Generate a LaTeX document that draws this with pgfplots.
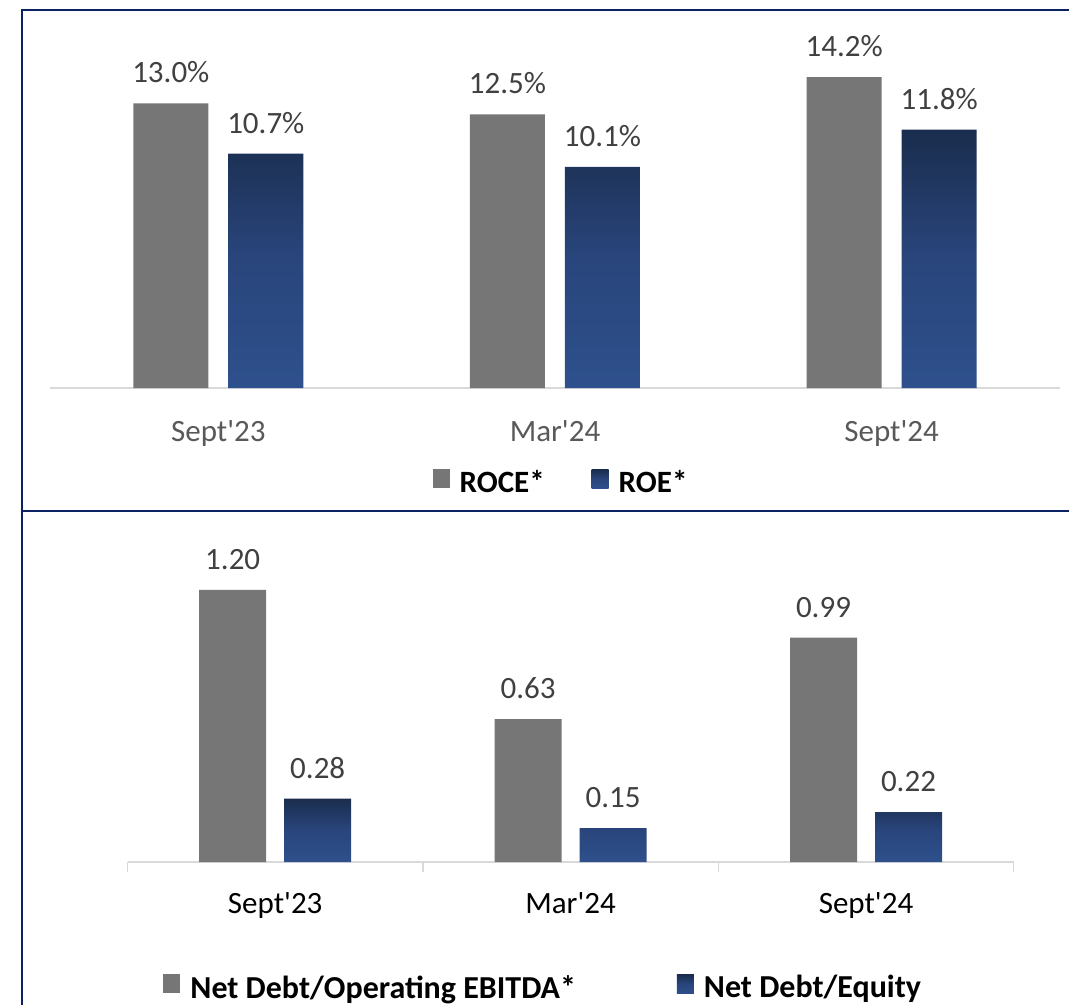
\documentclass[border=0pt]{standalone}
\usepackage{pgfplots}
\pgfplotsset{compat=1.18}
\usepackage{fontspec}
\setmainfont{Carlito}[Ligatures=TeXOff]

\definecolor{barGray}{HTML}{767676}
\definecolor{navyTop}{HTML}{1A2D4D}
\definecolor{navyMid}{HTML}{29457C}
\definecolor{navyBot}{HTML}{2E508C}
\definecolor{valGray}{HTML}{404040}
\definecolor{tickGray}{HTML}{595959}
\definecolor{lineGray}{HTML}{D9D9D9}
\definecolor{frameNavy}{HTML}{0B2262}

\newcommand{\bigfont}{\fontsize{31}{36}\selectfont}

\pgfplotsset{
  kpibars/.style={
    scale only axis,
    xmin=-0.5, xmax=2.5,
    ymin=0,
    axis x line*=bottom,
    axis y line=none,
    axis line style={draw=lineGray, line width=1.5pt},
    ytick=\empty,
    xtick={0,1,2},
    xticklabels={Sept'23, Mar'24, Sept'24},
    major tick length=0pt,
    clip=false,
    /pgf/number format/assume math mode=true,
    every node near coord/.append style={
      font=\bigfont, text=valGray, anchor=south, inner sep=0pt, yshift=20pt},
    legend style={draw=none, fill=none, font=\bigfont\bfseries,
      legend columns=-1, anchor=center,
      nodes={inner sep=0pt},
      /tikz/every odd column/.append style={column sep=10pt}},
  },
  sqlegend/.style={
    legend image code/.code={\path[##1] (0pt,-6pt) rectangle (17pt,13pt);}},
}

\begin{document}
\begin{tikzpicture}
\useasboundingbox (0pt,0pt) rectangle (1069pt,-1005pt);

% top panel: returns
\begin{axis}[
  kpibars,
  at={(50pt,-388pt)}, anchor=south west,
  width=1010pt, height=350.4pt,
  ymax=16,
  ybar=20pt, bar width=75pt,
  xticklabel style={font=\bigfont, text=tickGray, anchor=base, yshift=-53pt},
  nodes near coords={\pgfmathprintnumber[fixed,fixed zerofill,precision=1]{\pgfplotspointmeta}\%},
  legend style={at={(0.505,-0.268)},
    /tikz/every even column/.append style={column sep=47pt}},
]
\addplot[fill=barGray, draw=none, sqlegend] coordinates {(0,13.0) (1,12.5) (2,14.2)};
\addplot[draw=none, top color=navyTop, bottom color=navyBot, middle color=navyMid, sqlegend] coordinates {(0,10.7) (1,10.1) (2,11.8)};
\legend{ROCE*, ROE*}
\end{axis}

% bottom panel: leverage
\begin{axis}[
  kpibars,
  at={(127.5pt,-862pt)}, anchor=south west,
  width=886.2pt, height=317.4pt,
  ymax=1.4,
  ybar=18pt, bar width=67pt,
  xticklabel style={font=\bigfont, text=black, anchor=base, yshift=-51pt},
  extra x ticks={-0.5,0.5,1.5,2.5},
  extra x tick labels={},
  extra x tick style={tick align=outside, major tick length=10pt,
    tick style={draw=lineGray, line width=1.5pt}},
  nodes near coords={\pgfmathprintnumber[fixed,fixed zerofill,precision=2]{\pgfplotspointmeta}},
  legend style={at={(0.468,-0.394)}, font=\fontsize{32}{36}\selectfont\bfseries,
    /tikz/every even column/.append style={column sep=101pt}},
]
\addplot[fill=barGray, draw=none, sqlegend] coordinates {(0,1.20) (1,0.63) (2,0.99)};
\addplot[draw=none, top color=navyTop, bottom color=navyBot, middle color=navyMid, sqlegend] coordinates {(0,0.28) (1,0.15) (2,0.22)};
\legend{Net Debt/Operating EBITDA*, Net Debt/Equity}
\end{axis}

% panel frame
\draw[frameNavy, line width=2.5pt] (22pt,-1005pt) -- (22pt,-10pt) -- (1069pt,-10pt);
\draw[frameNavy, line width=2.5pt] (22pt,-511pt) -- (1069pt,-511pt);
\end{tikzpicture}
\end{document}
